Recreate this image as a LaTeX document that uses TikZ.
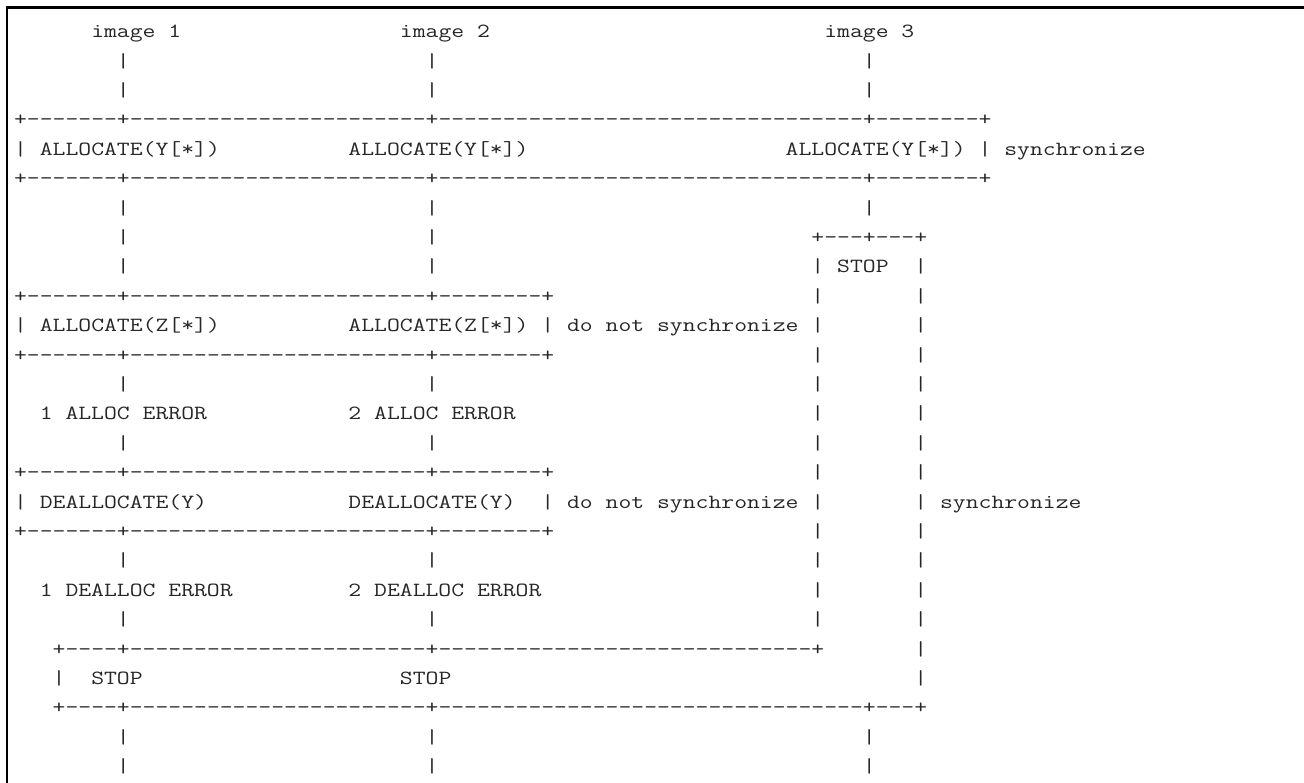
\documentclass[tikz,border=0pt]{standalone}
\usepackage{fontspec}
\ExplSyntaxOn
\cs_new:Npn \dsh #1 { \prg_replicate:nn {#1} {-} }
\ExplSyntaxOff
\newcommand\spc[1]{\hspace*{\dimexpr\fontcharwd\font`\x*#1\relax}}
\begin{document}
\begin{tikzpicture}[x=1pt,y=-1pt,
  ascii/.style={anchor=base west,inner sep=0pt,outer sep=0pt,
    transform shape,xscale=1.2424,
    font=\ttfamily\fontsize{20.1}{29.4}\selectfont,text=black!85},
  frame/.style={draw=black,line width=2.6pt}]
\useasboundingbox (0,0) rectangle (1304,782);
\fill[white] (0,0) rectangle (1304,782);
\clip (0,0) rectangle (1304,782);
\draw[frame] (1320,7.5) -| (7,800);
\node[ascii] (l1)  at (14.1,37.7)  {\spc{6}image 1\spc{17}image 2\spc{26}image 3};
\node[ascii] (l2)  at (14.1,67.1)  {\spc{8}|\spc{23}|\spc{33}|};
\node[ascii] (l3)  at (14.1,96.5)  {\spc{8}|\spc{23}|\spc{33}|};
\node[ascii] (l4)  at (14.1,125.9) {+\dsh{7}+\dsh{23}+\dsh{33}+\dsh{8}+};
\node[ascii] (l5)  at (14.1,155.3) {|\spc{1}ALLOCATE(Y[*])\spc{10}ALLOCATE(Y[*])\spc{20}ALLOCATE(Y[*])\spc{1}|\spc{1}synchronize};
\node[ascii] (l6)  at (14.1,184.7) {+\dsh{7}+\dsh{23}+\dsh{33}+\dsh{8}+};
\node[ascii] (l7)  at (14.1,214.1) {\spc{8}|\spc{23}|\spc{33}|};
\node[ascii] (l8)  at (14.1,243.5) {\spc{8}|\spc{23}|\spc{29}+\dsh{3}+\dsh{3}+};
\node[ascii] (l9)  at (14.1,272.9) {\spc{8}|\spc{23}|\spc{29}|\spc{1}STOP\spc{2}|};
\node[ascii] (l10) at (14.1,302.3) {+\dsh{7}+\dsh{23}+\dsh{8}+\spc{20}|\spc{7}|};
\node[ascii] (l11) at (14.1,331.7) {|\spc{1}ALLOCATE(Z[*])\spc{10}ALLOCATE(Z[*])\spc{1}|\spc{1}do not synchronize\spc{1}|\spc{7}|};
\node[ascii] (l12) at (14.1,361.1) {+\dsh{7}+\dsh{23}+\dsh{8}+\spc{20}|\spc{7}|};
\node[ascii] (l13) at (14.1,390.5) {\spc{8}|\spc{23}|\spc{29}|\spc{7}|};
\node[ascii] (l14) at (14.1,419.9) {\spc{2}1 ALLOC ERROR\spc{11}2 ALLOC ERROR\spc{23}|\spc{7}|};
\node[ascii] (l15) at (14.1,449.3) {\spc{8}|\spc{23}|\spc{29}|\spc{7}|};
\node[ascii] (l16) at (14.1,478.7) {+\dsh{7}+\dsh{23}+\dsh{8}+\spc{20}|\spc{7}|};
\node[ascii] (l17) at (14.1,508.1) {|\spc{1}DEALLOCATE(Y)\spc{11}DEALLOCATE(Y)\spc{2}|\spc{1}do not synchronize\spc{1}|\spc{7}|\spc{1}synchronize};
\node[ascii] (l18) at (14.1,537.5) {+\dsh{7}+\dsh{23}+\dsh{8}+\spc{20}|\spc{7}|};
\node[ascii] (l19) at (14.1,566.9) {\spc{8}|\spc{23}|\spc{29}|\spc{7}|};
\node[ascii] (l20) at (14.1,596.3) {\spc{2}1 DEALLOC ERROR\spc{9}2 DEALLOC ERROR\spc{21}|\spc{7}|};
\node[ascii] (l21) at (14.1,625.7) {\spc{8}|\spc{23}|\spc{29}|\spc{7}|};
\node[ascii] (l22) at (14.1,655.1) {\spc{3}+\dsh{4}+\dsh{23}+\dsh{29}+\spc{7}|};
\node[ascii] (l23) at (14.1,684.5) {\spc{3}|\spc{2}STOP\spc{20}STOP\spc{36}|};
\node[ascii] (l24) at (14.1,713.9) {\spc{3}+\dsh{4}+\dsh{23}+\dsh{33}+\dsh{3}+};
\node[ascii] (l25) at (14.1,743.3) {\spc{8}|\spc{23}|\spc{33}|};
\node[ascii] (l26) at (14.1,772.7) {\spc{8}|\spc{23}|\spc{33}|};
\end{tikzpicture}
\end{document}
